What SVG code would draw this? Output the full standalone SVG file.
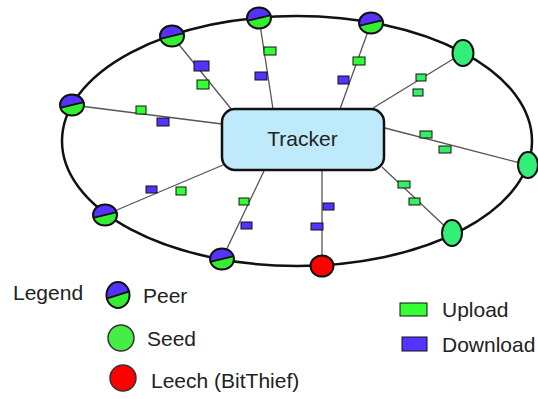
<svg xmlns="http://www.w3.org/2000/svg" xmlns:xlink="http://www.w3.org/1999/xlink" width="538" height="399" viewBox="0 0 538 399">
  <style>
    .ring { fill: none; stroke: #111; stroke-width: 2.5; }
    .link { stroke: #555; stroke-width: 1.3; fill: none; }
    .tracker { fill: #bfeafc; stroke: #111; stroke-width: 2.5; }
    .label { font-family: "Liberation Sans", Arial, sans-serif; font-size: 21px; fill: #222; }
    .up { fill: #33ff33; stroke: #111; stroke-width: 1; }
    .upseed { fill: #33ee66; stroke: #111; stroke-width: 1; }
    .down { fill: #5533ff; stroke: #111; stroke-width: 1; }
    .seed { fill: #33ee77; stroke: #111; stroke-width: 2; }
    .leech { fill: #ff0000; stroke: #111; stroke-width: 2; }
    .seedLegend { fill: #44ee44; stroke: #333; stroke-width: 1.5; }
    .leechLegend { fill: #ff0000; stroke: #333; stroke-width: 1.5; }
  </style>
  <defs>
    <clipPath id="peerClip"><ellipse cx="0" cy="0" rx="12" ry="10.5"/></clipPath>
    <!-- half-download / half-upload peer glyph, centred on the origin -->
    <g id="peer">
      <ellipse cx="0" cy="0" rx="12" ry="10.5" fill="#33ee33"/>
      <path d="M-13,3.2 L13,-3.2 L13,-12 L-13,-12 Z" fill="#5533ff" clip-path="url(#peerClip)"/>
      <line x1="-12" y1="2.9" x2="12" y2="-2.9" stroke="#111" stroke-width="2" vector-effect="non-scaling-stroke"/>
      <ellipse cx="0" cy="0" rx="12" ry="10.5" fill="none" stroke="#111" stroke-width="2" vector-effect="non-scaling-stroke"/>
    </g>
  </defs>

  <rect width="538" height="399" fill="#ffffff"/>

  <!-- swarm ring -->
  <ellipse class="ring" cx="297" cy="141" rx="235" ry="125"/>

  <!-- connectors between tracker and swarm members -->
  <g id="connectors">
    <line class="link" x1="172" y1="36" x2="232" y2="110"/>
    <line class="link" x1="259" y1="18" x2="273" y2="109"/>
    <line class="link" x1="371" y1="23" x2="340" y2="109"/>
    <line class="link" x1="463" y1="53" x2="373" y2="108"/>
    <line class="link" x1="528" y1="165" x2="385" y2="128"/>
    <line class="link" x1="452" y1="233" x2="382" y2="167"/>
    <line class="link" x1="322" y1="266" x2="322" y2="171"/>
    <line class="link" x1="222" y1="259" x2="264" y2="171"/>
    <line class="link" x1="105" y1="215" x2="223" y2="165"/>
    <line class="link" x1="72" y1="105" x2="222" y2="124"/>
  </g>

  <!-- transfer markers along the connectors -->
  <g id="transfers">
    <rect class="down" x="194" y="61" width="15" height="10"/>
    <rect class="up" x="197" y="80" width="12" height="9"/>
    <rect class="up" x="264" y="47" width="12" height="8"/>
    <rect class="down" x="255" y="72" width="12" height="8"/>
    <rect class="up" x="353" y="57" width="12" height="8"/>
    <rect class="down" x="338" y="76" width="11" height="8"/>
    <rect class="upseed" x="416" y="74" width="10" height="7"/>
    <rect class="upseed" x="413" y="89" width="10" height="7"/>
    <rect class="upseed" x="420" y="131" width="12" height="7"/>
    <rect class="upseed" x="439" y="146" width="12" height="7"/>
    <rect class="upseed" x="398" y="181" width="12" height="7"/>
    <rect class="upseed" x="409" y="198" width="11" height="7"/>
    <rect class="down" x="323" y="203" width="11" height="7"/>
    <rect class="down" x="311" y="223" width="12" height="7"/>
    <rect class="up" x="239" y="198" width="10" height="7"/>
    <rect class="down" x="241" y="222" width="11" height="7"/>
    <rect class="up" x="176" y="187" width="10" height="8"/>
    <rect class="down" x="146" y="186" width="11" height="7"/>
    <rect class="up" x="136" y="106" width="10" height="8"/>
    <rect class="down" x="157" y="118" width="12" height="8"/>
  </g>

  <!-- tracker -->
  <g id="tracker">
    <rect class="tracker" x="222" y="109" width="162" height="61" rx="13" ry="13"/>
    <text class="label" x="302.5" y="146" text-anchor="middle">Tracker</text>
  </g>

  <!-- swarm members -->
  <g id="peer1"><use xlink:href="#peer" href="#peer" x="72" y="105"/></g>
  <g id="peer2"><use xlink:href="#peer" href="#peer" x="172" y="36"/></g>
  <g id="peer3"><use xlink:href="#peer" href="#peer" x="259" y="18"/></g>
  <g id="peer4"><use xlink:href="#peer" href="#peer" x="371" y="23"/></g>
  <g id="seed1"><ellipse class="seed" cx="463" cy="53" rx="10.5" ry="13"/></g>
  <g id="seed2"><ellipse class="seed" cx="528" cy="165" rx="10" ry="13"/></g>
  <g id="seed3"><ellipse class="seed" cx="452" cy="233" rx="10" ry="13"/></g>
  <g id="leech"><ellipse class="leech" cx="322" cy="266" rx="11.5" ry="10.5"/></g>
  <g id="peer5"><use xlink:href="#peer" href="#peer" x="222" y="259"/></g>
  <g id="peer6"><use xlink:href="#peer" href="#peer" x="105" y="215"/></g>

  <!-- legend -->
  <g id="legend">
    <text class="label" x="13" y="300">Legend</text>
    <g transform="translate(118,295) scale(0.96,1.24)"><use xlink:href="#peer" href="#peer"/></g>
    <text class="label" x="143" y="303">Peer</text>
    <ellipse class="seedLegend" cx="121" cy="338" rx="13" ry="13"/>
    <text class="label" x="147" y="346">Seed</text>
    <ellipse class="leechLegend" cx="123" cy="378" rx="13" ry="13"/>
    <text class="label" x="151" y="388">Leech (BitThief)</text>
    <rect class="up" x="400" y="303" width="27" height="13" stroke-width="1.5"/>
    <text class="label" x="442" y="317">Upload</text>
    <rect class="down" x="402" y="337" width="25" height="14" stroke-width="1.5"/>
    <text class="label" x="442" y="352">Download</text>
  </g>
</svg>
